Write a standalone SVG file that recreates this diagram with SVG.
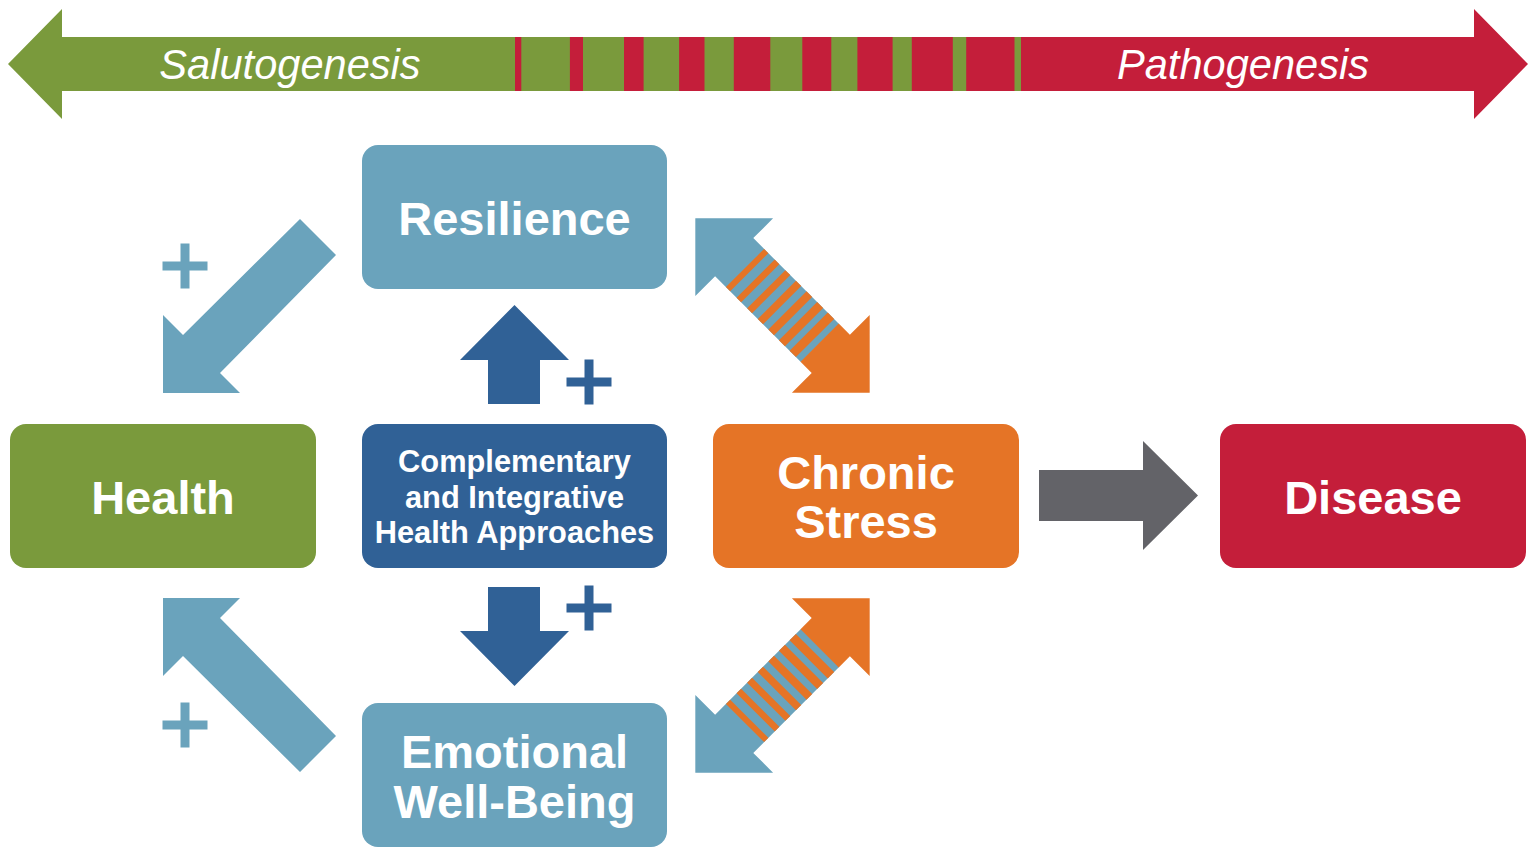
<svg xmlns="http://www.w3.org/2000/svg" width="1536" height="856" viewBox="0 0 1536 856">
<defs>
<style>
.t{font-family:"Liberation Sans",Arial,Helvetica,sans-serif;fill:#fff;text-anchor:middle}
.big{font-size:47px;font-weight:bold}
.mid{font-size:30.8px;font-weight:bold}
.ital{font-size:41.6px;font-style:italic}
.lb{fill:#6aa3bc}
.or{fill:#e57426}
.db{fill:#306196}
.gr{fill:#7a9a3c}
.rd{fill:#c41e3a}
.gy{fill:#636368}
</style>
<g id="plus">
<rect x="-22.5" y="-4.5" width="45" height="9"/>
<rect x="-4.5" y="-22.5" width="9" height="45"/>
</g>
<g id="dbl">
<polygon class="lb" points="-123.3,0 -68.3,-55 -68.3,-27 53,-27 53,27 -68.3,27 -68.3,55"/>
<polygon class="or" points="123.3,0 68.3,55 68.3,27 52.5,27 52.5,-27 68.3,-27 68.3,-55"/>
<g class="or">
<rect x="-53" y="-27" width="6" height="54"/>
<rect x="-38" y="-27" width="6.5" height="54"/>
<rect x="-23" y="-27" width="7" height="54"/>
<rect x="-8" y="-27" width="7.5" height="54"/>
<rect x="7" y="-27" width="8" height="54"/>
<rect x="22" y="-27" width="8.5" height="54"/>
<rect x="37" y="-27" width="9" height="54"/>
</g>
</g>
<polygon id="hArrow" points="300,219 336,255 220,373 240,393 163,393 163,315 183,335"/>
<polygon id="vArrow" points="514.5,305 569,360 540,360 540,404 488,404 488,360 460,360"/>
</defs>
<rect width="1536" height="856" fill="#fff"/>

<g id="spectrum">
<polygon class="rd" points="1528,64 1474,9 1474,37 514,37 514,91 1474,91 1474,119"/>
<polygon class="gr" points="8,64 62,9 62,37 515,37 515,91 62,91 62,119"/>
<g class="gr">
<rect x="521.3" y="37" width="48.6" height="54"/>
<rect x="583" y="37" width="41" height="54"/>
<rect x="643.6" y="37" width="35.5" height="54"/>
<rect x="704.5" y="37" width="29.3" height="54"/>
<rect x="770.3" y="37" width="32" height="54"/>
<rect x="831.3" y="37" width="26.1" height="54"/>
<rect x="892.6" y="37" width="19.2" height="54"/>
<rect x="952.8" y="37" width="13.4" height="54"/>
<rect x="1014.5" y="37" width="6.5" height="54"/>
</g>
<text class="t ital" x="290" y="79">Salutogenesis</text>
<text class="t ital" x="1243" y="79">Pathogenesis</text>
</g>

<g id="connectors">
<use href="#hArrow" class="lb"/>
<use href="#hArrow" class="lb" transform="translate(0,991) scale(1,-1)"/>
<use href="#vArrow" class="db"/>
<use href="#vArrow" class="db" transform="translate(0,991) scale(1,-1)"/>
<use href="#dbl" transform="translate(782.5,305.5) rotate(45)"/>
<use href="#dbl" transform="translate(0,991) scale(1,-1) translate(782.5,305.5) rotate(45)"/>
<polygon class="gy" points="1039,470 1143,470 1143,441 1198,495.5 1143,550 1143,521 1039,521"/>
<g id="plus-labels">
<use href="#plus" class="lb" transform="translate(185,266)"/>
<use href="#plus" class="lb" transform="translate(185,725)"/>
<use href="#plus" class="db" transform="translate(589,382)"/>
<use href="#plus" class="db" transform="translate(589,608)"/>
</g>
</g>

<g id="resilience">
<rect class="lb" x="362" y="145" width="305" height="144" rx="16"/>
<text class="t big" x="514.5" y="235">Resilience</text>
</g>
<g id="health">
<rect class="gr" x="10" y="424" width="306" height="144" rx="16"/>
<text class="t big" x="163" y="514">Health</text>
</g>
<g id="approaches">
<rect class="db" x="362" y="424" width="305" height="144" rx="16"/>
<text class="t mid" x="514.5" y="472">Complementary</text>
<text class="t mid" x="514.5" y="507.5">and Integrative</text>
<text class="t mid" x="514.5" y="543">Health Approaches</text>
</g>
<g id="chronic-stress">
<rect class="or" x="713" y="424" width="306" height="144" rx="16"/>
<text class="t big" x="866" y="489">Chronic</text>
<text class="t big" x="866" y="538">Stress</text>
</g>
<g id="disease">
<rect class="rd" x="1220" y="424" width="306" height="144" rx="16"/>
<text class="t big" x="1373" y="514">Disease</text>
</g>
<g id="well-being">
<rect class="lb" x="362" y="703" width="305" height="144" rx="16"/>
<text class="t big" x="514.5" y="768">Emotional</text>
<text class="t big" x="514.5" y="818">Well-Being</text>
</g>
</svg>
